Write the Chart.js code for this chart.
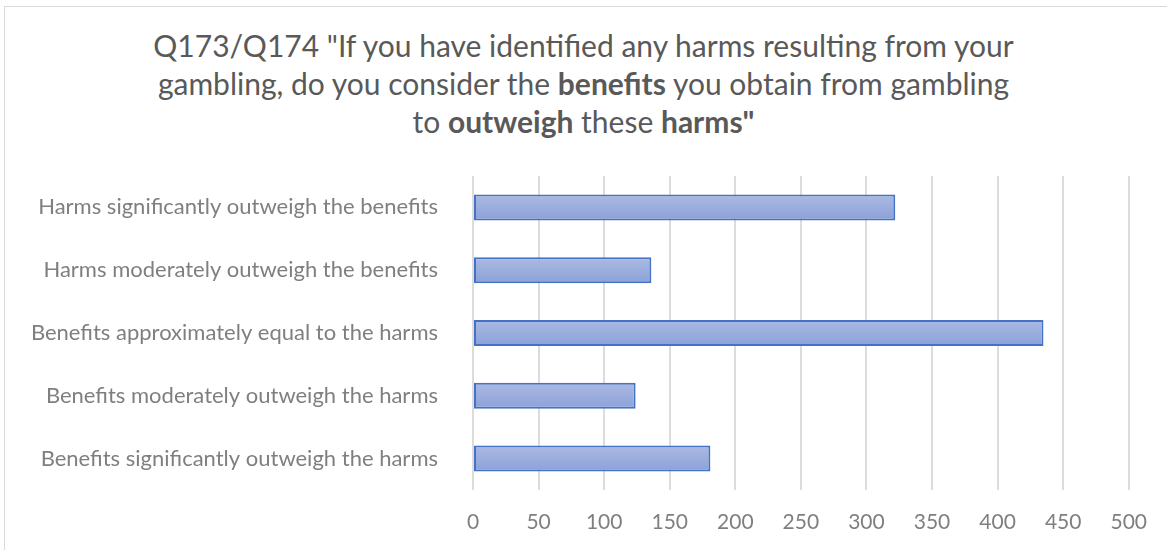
<!DOCTYPE html>
<html>
<head>
<meta charset="utf-8">
<script src="https://cdn.jsdelivr.net/npm/chart.js@4.4.0/dist/chart.umd.min.js"></script>
<style>
  html, body { margin: 0; padding: 0; background: #fff; }
  #wrap { position: relative; width: 1167px; height: 550px; overflow: hidden; }
  #frame { position: absolute; left: 4px; top: 6px; width: 1200px; height: 600px; border: 1px solid #d9d9d9; box-sizing: border-box; }
  #title {
    position: absolute; left: 0; top: 26px; width: 1167px; text-align: center;
    font-family: Lato, sans-serif; font-size: 30px; line-height: 38px; color: #595959;
  }
  #title b { font-weight: bold; }
  #chart { position: absolute; left: 0; top: 0; }
</style>
</head>
<body>
<div id="wrap">
  <div id="frame"></div>
  <div id="title">Q173/Q174 "If you have identified any harms resulting from your<br>gambling, do you consider the <b>benefits</b> you obtain from gambling<br>to <b>outweigh</b> these <b>harms"</b></div>
  <canvas id="chart" width="1167" height="550"></canvas>
</div>
<script>
// Chart data
const categories = [
    'Harms significantly outweigh the benefits',
    'Harms moderately outweigh the benefits',
    'Benefits approximately equal to the harms',
    'Benefits moderately outweigh the harms',
    'Benefits significantly outweigh the harms'
];
const responses = [322, 136, 435, 124, 181];
const xTicks = [0, 50, 100, 150, 200, 250, 300, 350, 400, 450, 500];

const labelColor = '#7f7f7f';
const gridColor = '#dcdcdc';
const barShare = 0.414;

// vertical gradient for each bar, built from the bar's band on the y scale
function barFill(ctx) {
    const chart = ctx.chart;
    const yScale = chart.scales.y;
    if (!chart.chartArea || !yScale) return '#9aaedd';
    const mid = yScale.getPixelForValue(ctx.dataIndex);
    const half = (yScale.height / categories.length) * barShare / 2;
    const g = chart.ctx.createLinearGradient(0, mid - half, 0, mid + half);
    g.addColorStop(0, '#abbae3');
    g.addColorStop(1, '#8ba1d8');
    return g;
}

new Chart(document.getElementById('chart'), {
    type: 'bar',
    data: {
        labels: categories,
        datasets: [{
            data: responses,
            backgroundColor: barFill,
            borderColor: '#4472c4',
            borderWidth: 2,
            borderSkipped: false,
            categoryPercentage: barShare,
            barPercentage: 1
        }]
    },
    options: {
        indexAxis: 'y',
        responsive: false,
        animation: false,
        layout: { padding: { top: 176, right: 36, bottom: 0, left: 0 } },
        plugins: {
            legend: { display: false },
            tooltip: { enabled: false }
        },
        scales: {
            x: {
                min: 0,
                max: 500,
                afterBuildTicks: scale => { scale.ticks = xTicks.map(v => ({ value: v })); },
                afterFit: scale => { scale.height = 60; },
                grid: { color: gridColor, lineWidth: 2, drawTicks: false },
                border: { display: false },
                ticks: {
                    padding: 20,
                    color: labelColor,
                    font: { family: 'Lato', size: 21 }
                }
            },
            y: {
                afterFit: scale => { scale.width = 473; },
                grid: { display: false, drawTicks: false },
                border: { display: false },
                ticks: {
                    padding: 35,
                    color: labelColor,
                    font: { family: 'Lato', size: 22 }
                }
            }
        }
    }
});
</script>
</body>
</html>
